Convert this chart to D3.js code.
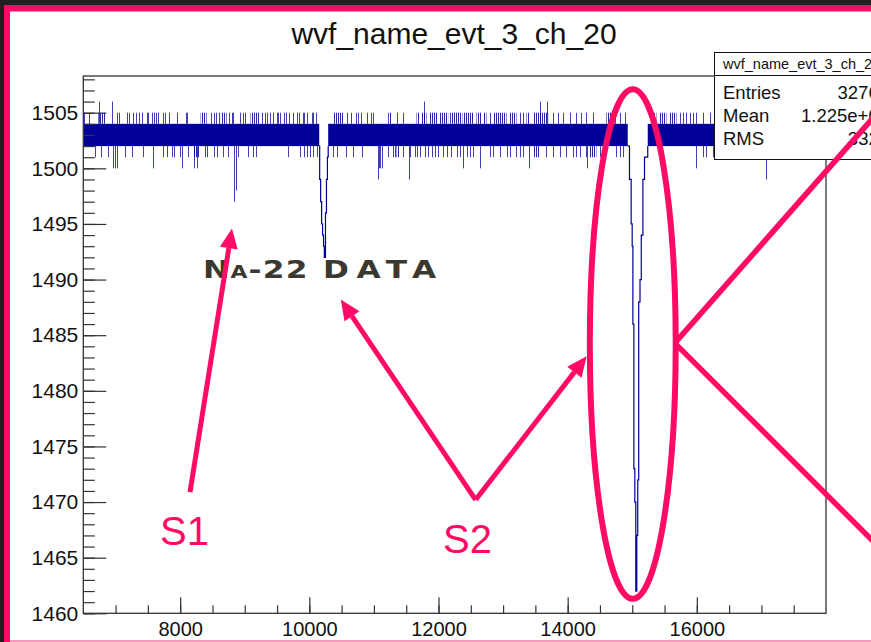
<!DOCTYPE html>
<html>
<head>
<meta charset="utf-8">
<script src="https://cdn.jsdelivr.net/npm/d3@7"></script>
<style>
  html, body { margin: 0; padding: 0; background: #202020; }
  svg { display: block; }
</style>
</head>
<body>
<svg id="chart" width="871" height="642"></svg>
<script>
// ---- histogram description -------------------------------------------------
const histTitle = "wvf_name_evt_3_ch_20";
const xDomain = [6500, 18000];          // sample number
const yDomain = [1460, 1508.3];         // ADC counts
const xTicks = [8000, 10000, 12000, 14000, 16000];
const yTicks = [1460, 1465, 1470, 1475, 1480, 1485, 1490, 1495, 1500, 1505];

// quiet baseline: dense band of samples [from, to, low, high]
const baselineBand = [
  [6500, 10153, 1502, 1504],
  [10292, 14930, 1502, 1504],
  [15240, 18000, 1502, 1504]
];
// stretches where the baseline keeps touching 1505
const highRuns = [[6733, 6836], [8317, 8409], [8631, 8719], [9090, 9235], [10380, 10535],
  [11221, 11273], [11660, 11711], [11737, 11814], [11866, 11990], [12010, 12150],
  [12180, 12370], [12390, 12537], [12588, 12666], [12691, 12743], [12846, 13053],
  [13104, 13207], [13362, 13414], [13465, 13698], [14600, 14678], [15322, 15374],
  [15426, 15529], [15581, 15684]];
// stretches where the baseline keeps touching 1501
const lowRuns = [[8203, 8306], [11350, 11402], [13465, 13568], [14342, 14445]];

// single-sample excursions: sample -> ADC value
const spikeUpAt = [6511, 6593, 7027, 7058, 7171, 7207, 7274, 7316, 7367, 7414, 7481, 7507,
  7558, 7594, 7625, 7661, 7728, 7770, 7832, 7945, 8090, 8110, 8471, 8523, 8554, 8605, 8755,
  8796, 8822, 8925, 8977, 9003, 9261, 9312, 9338, 9390, 9441, 9493, 9519, 9544, 9606, 9637,
  9689, 9751, 9813, 9844, 9895, 9916, 9967, 10035, 10060, 10102, 10587, 10638, 10721, 10757,
  10793, 10896, 10948, 10989, 11350, 11453, 12795, 13259, 13311, 13775, 13852, 13930, 14033,
  14136, 14213, 14291, 14394, 14729, 14807, 14884, 15735, 15787, 15838, 15890, 15942, 15993,
  16096, 16202];
const spikeUpVal = 1505;
const tallSpikes = [[6743, 1506], [6939, 1506], [11773, 1506], [13568, 1506], [13682, 1506]];

const spikeDownAt = [6681, 6769, 6888, 7145, 7249, 7429, 7728, 7801, 7868, 7904, 7997, 8126,
  8384, 8409, 8523, 8574, 8657, 8745, 8900, 9054, 9132, 9173, 9673, 9854, 9916, 9957, 10009,
  10050, 10112, 10370, 10432, 10566, 10679, 10808, 11221, 11298, 11324, 11453, 11556, 11634,
  11660, 11711, 11789, 11840, 11892, 11943, 11995, 12072, 12124, 12201, 12279, 12330, 12434,
  12485, 12537, 12795, 12846, 12949, 13053, 13104, 13207, 13259, 13311, 13671, 13775, 13878,
  13981, 14084, 14136, 14188, 14291, 14497, 14549, 14755, 14807, 14858, 16096, 16149, 16255];
const spikeDownVal = 1501;
const deepSpikes = [[6965, 1500], [6990, 1500], [7016, 1500], [7584, 1500], [8023, 1500],
  [8213, 1500], [8255, 1500], [11056, 1499], [11080, 1500], [11100, 1500], [11118, 1500],
  [11546, 1499], [12372, 1500], [12640, 1500], [13403, 1500], [14301, 1500], [15993, 1500],
  [17077, 1499], [8840, 1497], [8862, 1498]];

// pulses traced sample by sample: [sample, ADC]
const pulseS2 = [[10150, 1502], [10160, 1499], [10175, 1497], [10190, 1495], [10205, 1494],
  [10220, 1493], [10232, 1492], [10250, 1496], [10265, 1499], [10280, 1501], [10292, 1502]];
const pulseBig = [[14930, 1502], [14957, 1499], [14983, 1495], [14999, 1493], [15010, 1486],
  [15025, 1473], [15040, 1470], [15055, 1462], [15070, 1467], [15085, 1472], [15100, 1488],
  [15120, 1490], [15140, 1494], [15165, 1499], [15190, 1501], [15240, 1502]];

// statistics box
const statNames = ["Entries", "Mean", "RMS"];
const statValues = ["32768", "1.225e+04", "3320"];

// ---- layout ----------------------------------------------------------------
const W = 871, H = 642;
const plot = { left: 83.3, right: 826, top: 76, bottom: 613.3 };
const font = "'Liberation Sans', Arial, Helvetica, sans-serif";
const navy = "#000099";
const pink = "#ff0a64";

const svg = d3.select("#chart");

const defs = svg.append("defs");
// fine vertical hatching for stretches crowded with one-sample excursions
const hatch = defs.append("pattern").attr("id", "hatch")
  .attr("patternUnits", "userSpaceOnUse").attr("width", 2).attr("height", 20);
hatch.append("rect").attr("x", 0).attr("y", 0).attr("width", 1).attr("height", 20)
  .attr("fill", navy).attr("fill-opacity", 0.85);

// page background with the pink border
svg.append("rect").attr("width", W).attr("height", H).attr("fill", "#202020");
svg.append("rect").attr("x", 4).attr("y", 5).attr("width", W).attr("height", H).attr("fill", pink);
svg.append("rect").attr("x", 10).attr("y", 11.5).attr("width", W).attr("height", 629).attr("fill", "#fff");
svg.append("rect").attr("x", 10).attr("y", 640.5).attr("width", W).attr("height", 2).attr("fill", "#f6a3c2");

const x = d3.scaleLinear().domain(xDomain).range([plot.left, plot.right]);
const y = d3.scaleLinear().domain(yDomain).range([plot.bottom, plot.top]);

// title
svg.append("text")
  .attr("x", 454).attr("y", 44)
  .attr("text-anchor", "middle")
  .attr("font-family", font).attr("font-size", 30)
  .attr("fill", "#111")
  .text(histTitle);

defs.append("clipPath").attr("id", "plotClip")
  .append("rect").attr("x", plot.left).attr("y", plot.top)
  .attr("width", plot.right - plot.left).attr("height", plot.bottom - plot.top);

const wave = svg.append("g").attr("clip-path", "url(#plotClip)");

// dense baseline band
wave.selectAll("rect.band").data(baselineBand).join("rect")
  .attr("class", "band")
  .attr("x", d => x(d[0])).attr("width", d => x(d[1]) - x(d[0]))
  .attr("y", d => y(d[3])).attr("height", d => y(d[2]) - y(d[3]))
  .attr("fill", navy);

wave.selectAll("rect.hi").data(highRuns).join("rect")
  .attr("class", "hi")
  .attr("x", d => x(d[0])).attr("width", d => x(d[1]) - x(d[0]))
  .attr("y", y(1505)).attr("height", y(1504) - y(1505))
  .attr("fill", "url(#hatch)");

wave.selectAll("rect.lo").data(lowRuns).join("rect")
  .attr("class", "lo")
  .attr("x", d => x(d[0])).attr("width", d => x(d[1]) - x(d[0]))
  .attr("y", y(1502)).attr("height", y(1501) - y(1502))
  .attr("fill", "url(#hatch)");

const spikeStyle = sel => sel.attr("stroke", navy).attr("stroke-width", 1).attr("stroke-opacity", 0.75);

wave.selectAll("line.up").data(spikeUpAt).join("line")
  .attr("class", "up")
  .attr("x1", d => Math.round(x(d)) + 0.5).attr("x2", d => Math.round(x(d)) + 0.5)
  .attr("y1", y(1504)).attr("y2", y(spikeUpVal))
  .call(spikeStyle);

wave.selectAll("line.tall").data(tallSpikes).join("line")
  .attr("class", "tall")
  .attr("x1", d => Math.round(x(d[0])) + 0.5).attr("x2", d => Math.round(x(d[0])) + 0.5)
  .attr("y1", y(1504)).attr("y2", d => y(d[1]))
  .call(spikeStyle);

wave.selectAll("line.down").data(spikeDownAt).join("line")
  .attr("class", "down")
  .attr("x1", d => Math.round(x(d)) + 0.5).attr("x2", d => Math.round(x(d)) + 0.5)
  .attr("y1", y(1502)).attr("y2", y(spikeDownVal))
  .call(spikeStyle);

wave.selectAll("line.deep").data(deepSpikes).join("line")
  .attr("class", "deep")
  .attr("x1", d => Math.round(x(d[0])) + 0.5).attr("x2", d => Math.round(x(d[0])) + 0.5)
  .attr("y1", y(1502)).attr("y2", d => y(d[1]))
  .call(spikeStyle);

const step = d3.line().x(d => x(d[0])).y(d => y(d[1])).curve(d3.curveStepAfter);
wave.selectAll("path.pulse").data([pulseS2, pulseBig]).join("path")
  .attr("class", "pulse")
  .attr("d", step)
  .attr("fill", "none").attr("stroke", navy).attr("stroke-width", 1.2);

// axes with inward ticks
const axisColor = "#333";
const styleAxis = g => {
  g.select(".domain").remove();
  g.selectAll("line").attr("stroke", axisColor).attr("stroke-width", 1.2);
  g.selectAll("text").attr("font-family", font).attr("font-size", 20).attr("fill", "#111");
};

const yMinor = d3.range(yDomain[0], yDomain[1], 1);
svg.append("g").attr("transform", `translate(${plot.left},0)`)
  .call(d3.axisLeft(y).tickValues(yMinor).tickSize(-11.5).tickFormat(""))
  .call(styleAxis);
svg.append("g").attr("transform", `translate(${plot.left},0)`)
  .call(d3.axisLeft(y).tickValues(yTicks).tickSize(-23).tickPadding(5).tickFormat(d3.format("d")))
  .call(styleAxis)
  .call(g => g.selectAll("text").attr("font-size", 21));

const xMinor = d3.range(7000, xDomain[1], 500);
svg.append("g").attr("transform", `translate(0,${plot.bottom})`)
  .call(d3.axisBottom(x).tickValues(xMinor).tickSize(-8).tickFormat(""))
  .call(styleAxis);
svg.append("g").attr("transform", `translate(0,${plot.bottom})`)
  .call(d3.axisBottom(x).tickValues(xTicks).tickSize(-16).tickPadding(9).tickFormat(d3.format("d")))
  .call(styleAxis);

// frame
svg.append("rect")
  .attr("x", plot.left).attr("y", plot.top)
  .attr("width", plot.right - plot.left).attr("height", plot.bottom - plot.top)
  .attr("fill", "none").attr("stroke", axisColor).attr("stroke-width", 1.3);

// statistics box
const box = svg.append("g");
box.append("rect").attr("x", 714.5).attr("y", 52.5).attr("width", 200).attr("height", 107)
  .attr("fill", "#fff").attr("stroke", "#111").attr("stroke-width", 1);
box.append("line").attr("x1", 714.5).attr("x2", 914.5).attr("y1", 75.5).attr("y2", 75.5)
  .attr("stroke", "#111").attr("stroke-width", 1);
box.append("text").attr("x", 723).attr("y", 69)
  .attr("font-family", font).attr("font-size", 14.5).attr("fill", "#111").text(histTitle);
box.selectAll("text.sn").data(statNames).join("text")
  .attr("class", "sn")
  .attr("x", 723).attr("y", (d, i) => 98.5 + i * 23.3)
  .attr("font-family", font).attr("font-size", 18.5).attr("fill", "#111").text(d => d);
box.selectAll("text.sv").data(statValues).join("text")
  .attr("class", "sv")
  .attr("x", 889).attr("y", (d, i) => 98.5 + i * 23.3)
  .attr("text-anchor", "end")
  .attr("font-family", font).attr("font-size", 18.5).attr("fill", "#111").text(d => d);

// source label, wide bold small capitals
const labelFont = "'DejaVu Sans', Verdana, sans-serif";
const label = svg.append("text")
  .attr("transform", "translate(203,277.5) scale(1.25,1)")
  .attr("font-family", labelFont).attr("font-weight", "bold")
  .attr("font-size", 25).attr("letter-spacing", 1).attr("fill", "#3a3830");
label.append("tspan").text("N");
label.append("tspan").attr("font-size", 17.5).text("A");
label.append("tspan").text("-22");
svg.append("text")
  .attr("transform", "translate(323,277.5) scale(1.25,1)")
  .attr("font-family", labelFont).attr("font-weight", "bold")
  .attr("font-size", 25).attr("letter-spacing", 6).attr("fill", "#3a3830")
  .text("DATA");

// annotations: [tail sample, tail ADC, tip sample, tip ADC]
const arrows = [
  [8152, 1470.9, 8802, 1494.6],
  [12575, 1470.2, 10487, 1488.2],
  [12575, 1470.2, 14294, 1483.1]
];
const callouts = [
  [15675, 1484.4, 18830, 1505.2],
  [15675, 1484.2, 18830, 1465.9]
];
const ringS2 = { cx: 15008, cy: 1484.2, rx: 665, ry: 22.9 };
const tags = [["S1", 160, 545], ["S2", 443, 553]];

const ann = svg.append("g").attr("stroke", pink).attr("fill", pink);
ann.append("ellipse")
  .attr("cx", x(ringS2.cx)).attr("cy", y(ringS2.cy))
  .attr("rx", x(xDomain[0] + ringS2.rx) - x(xDomain[0]))
  .attr("ry", y(yDomain[0]) - y(yDomain[0] + ringS2.ry))
  .attr("fill", "none").attr("stroke-width", 6);
ann.selectAll("line.call").data(callouts).join("line")
  .attr("class", "call")
  .attr("x1", d => x(d[0])).attr("y1", d => y(d[1]))
  .attr("x2", d => x(d[2])).attr("y2", d => y(d[3]))
  .attr("stroke-width", 5.5);
arrows.forEach(d => {
  const x1 = x(d[0]), y1 = y(d[1]), x2 = x(d[2]), y2 = y(d[3]);
  const a = Math.atan2(y2 - y1, x2 - x1), L = 20, hw = 9;
  const bx = x2 - L * Math.cos(a), by = y2 - L * Math.sin(a);
  ann.append("line").attr("x1", x1).attr("y1", y1).attr("x2", bx).attr("y2", by)
    .attr("stroke-width", 5);
  ann.append("polygon").attr("stroke", "none").attr("points", [
    [x2, y2],
    [bx + hw * Math.sin(a), by - hw * Math.cos(a)],
    [bx - hw * Math.sin(a), by + hw * Math.cos(a)]
  ].map(p => p.join(",")).join(" "));
});
ann.selectAll("text").data(tags).join("text")
  .attr("x", d => d[1]).attr("y", d => d[2])
  .attr("stroke", "none")
  .attr("font-family", font).attr("font-size", 40)
  .text(d => d[0]);
</script>
</body>
</html>
